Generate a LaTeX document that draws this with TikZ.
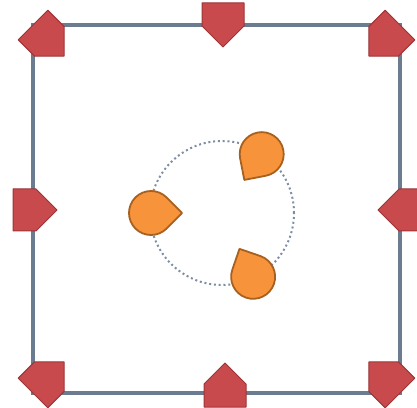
\documentclass[tikz,border=0pt]{standalone}
\usepackage{tikz}
\usetikzlibrary{calc}
\usepackage{xcolor}
\definecolor{slate}{HTML}{6B7C91}
\definecolor{ringgray}{HTML}{7D8DA3}
\definecolor{markred}{HTML}{C94A4C}
\definecolor{markdark}{HTML}{9C3537}
\definecolor{dropor}{HTML}{F7933B}
\definecolor{dropdark}{HTML}{A8601F}
\begin{document}
\begin{tikzpicture}[x=1pt,y=1pt,
frame/.style={draw=slate,line width=3.5pt},
ring/.style={draw=ringgray,line width=2pt,dash pattern=on 2pt off 2.8pt},
redmark/.pic={\path[fill=markred,draw=markdark,line width=1pt,line join=round] (0,-21) -- (23,-21) -- (44,0) -- (23,21) -- (0,21) -- cycle;},
orangedrop/.pic={\path[fill=dropor,draw=dropdark,line width=1.8pt,line join=round] (45:22pt) arc[start angle=45,end angle=315,radius=22pt] -- (31.1pt,0pt) -- cycle;}]
\useasboundingbox (0,0) rectangle (417,407);

% square and dotted ring
\draw [frame] (33,14) rectangle (400,382);
\coordinate (ringc) at (222,194);
\draw [ring] (ringc) circle [radius=72pt];

% red markers on the square
\pic [rotate=-45] at (33,382) {redmark};
\pic [rotate=-135] at (400,382) {redmark};
\pic [rotate=45] at (33,14) {redmark};
\pic [rotate=135] at (400,14) {redmark};
\pic [rotate=-90] at (223,404) {redmark};
\pic [rotate=90] at (225,0) {redmark};
\pic [rotate=0] at (13,197) {redmark};
\pic [rotate=180] at (422,197) {redmark};

% orange drops on the ring
\foreach \aa in {56,180,-64}
{\pgfmathsetmacro{\tip}{\aa+180}
    \pic [rotate=\tip] at ($(ringc)+(\aa:71pt)$) {orangedrop};}
\end{tikzpicture}
\end{document}
